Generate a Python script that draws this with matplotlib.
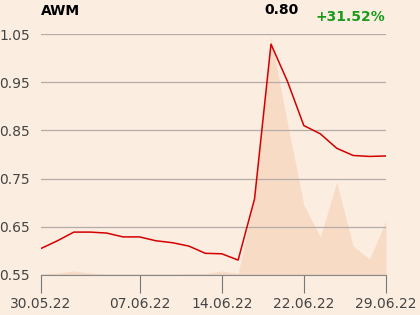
import numpy as np
import matplotlib.pyplot as plt

# ----------------------------
# Data
# ----------------------------

dates = ["30.05.22", "31.05.22", "01.06.22", "02.06.22", "03.06.22",
         "06.06.22", "07.06.22", "08.06.22", "09.06.22", "10.06.22",
         "13.06.22", "14.06.22", "15.06.22", "17.06.22", "20.06.22",
         "21.06.22", "22.06.22", "23.06.22", "24.06.22", "27.06.22",
         "28.06.22", "29.06.22"]

price = [0.605, 0.621, 0.639, 0.639, 0.637, 0.629, 0.629, 0.621, 0.617,
         0.610, 0.595, 0.594, 0.581, 0.708, 1.029, 0.952, 0.860, 0.843,
         0.813, 0.798, 0.796, 0.797]

volume = [1, 2, 4, 2, 1, 1, 1, 1, 1, 1.5, 1.5, 4, 1.5, 77, 238, 152,
          70, 38, 93, 29, 16, 54]

tick_dates = ["30.05.22", "07.06.22", "14.06.22", "22.06.22", "29.06.22"]
yticks = [0.55, 0.65, 0.75, 0.85, 0.95, 1.05]

bg = "#fbede0"
x = np.arange(len(dates))

# ----------------------------
# Plot
# ----------------------------

fig = plt.figure(figsize=(4.2, 3.15), dpi=100, facecolor=bg)
ax = fig.add_axes([0.0976, 0.127, 0.8214, 0.765])
ax.set_facecolor(bg)

axv = ax.twinx()
axv.fill_between(x, 0, volume, color="#f8dbc5", lw=0)
axv.set_ylim(0, 241)
axv.axis("off")
ax.set_zorder(axv.get_zorder() + 1)
ax.patch.set_visible(False)
fig.patch.set_facecolor(bg)

for t in yticks:
    ax.axhline(t, color="#b4aca6", lw=0.9, zorder=0)

ax.plot(x, price, color="#d40000", lw=1.1, zorder=3)

ax.set_xlim(0, len(dates) - 1)
ax.set_ylim(0.55, 1.05)
ax.set_yticks(yticks)
ax.set_yticklabels([f"{t:.2f}" for t in yticks])
ax.set_xticks([dates.index(d) for d in tick_dates])
ax.set_xticklabels(tick_dates)

for s in ["top", "right", "left"]:
    ax.spines[s].set_visible(False)
ax.spines["bottom"].set_color("#888888")
ax.tick_params(axis="y", length=0, pad=8, labelsize=10, labelcolor="#444444")
ax.tick_params(axis="x", length=13, color="#777777", pad=3, labelsize=10,
               labelcolor="#444444")

fig.text(0.0976, 0.965, "AWM", fontsize=10, fontweight="bold", va="center")
fig.text(0.71, 0.968, "0.80", fontsize=10, fontweight="bold", va="center",
         ha="right")
fig.text(0.918, 0.947, "+31.52%", fontsize=10, fontweight="bold",
         va="center", ha="right", color="#1a9a1a")

plt.savefig("out.png", dpi=100, facecolor=bg)
